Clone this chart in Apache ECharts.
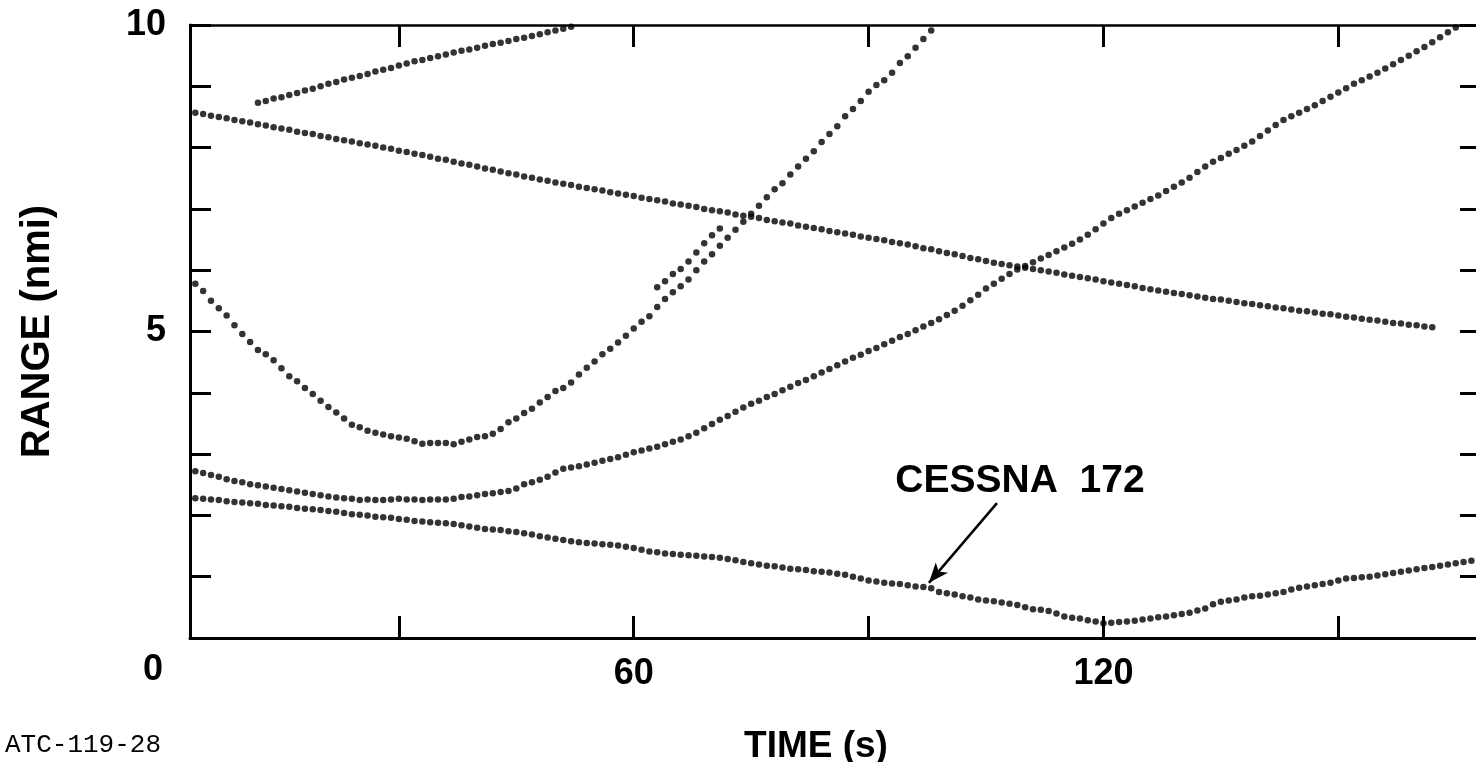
<!DOCTYPE html>
<html>
<head>
<meta charset="utf-8">
<title>Range vs time</title>
<script src="https://cdn.jsdelivr.net/npm/echarts@6/dist/echarts.min.js"></script>
<style>
  html, body { margin: 0; padding: 0; background: #fff; }
  #main { width: 1476px; height: 762px; }
</style>
</head>
<body>
<div id="main"></div>
<script>
// axes
var timeMin = 3.32, timeMax = 168.1;
var timeTicks = [30, 60, 90, 120, 150];
var timeLabels = [60, 120];
var rangeLabels = [5, 10];

// tracks: time of first report (s), then one range report per second (nmi)
var trackAStart = 12;
var trackA = [8.73, 8.76, 8.80, 8.82, 8.86, 8.89, 8.93, 8.96, 9.00, 9.04, 9.07, 9.11, 9.14, 9.17, 9.20, 9.24, 9.27, 9.30, 9.34, 9.37,
  9.41, 9.43, 9.46, 9.49, 9.52, 9.55, 9.58, 9.60, 9.63, 9.66, 9.69, 9.71, 9.74, 9.77, 9.79, 9.82, 9.85, 9.88, 9.91, 9.94, 9.97];

var trackBStart = 4;
var trackB = [8.57,
  8.55, 8.52, 8.50, 8.48, 8.45, 8.43, 8.41, 8.38, 8.36, 8.33,
  8.31, 8.29, 8.26, 8.24, 8.22, 8.19, 8.17, 8.14, 8.12, 8.10,
  8.07, 8.05, 8.03, 8.00, 7.98, 7.95, 7.93, 7.90, 7.88, 7.85,
  7.82, 7.80, 7.77, 7.74, 7.72, 7.69, 7.66, 7.64, 7.61, 7.58,
  7.56, 7.53, 7.51, 7.48, 7.46, 7.43, 7.41, 7.39, 7.36, 7.34,
  7.32, 7.30, 7.27, 7.25, 7.23, 7.21, 7.18, 7.16, 7.14, 7.12,
  7.09, 7.07, 7.05, 7.03, 7.00, 6.98, 6.96, 6.94, 6.91, 6.89,
  6.87, 6.85, 6.82, 6.80, 6.78, 6.76, 6.73, 6.71, 6.69, 6.67,
  6.64, 6.62, 6.60, 6.58, 6.55, 6.53, 6.51, 6.49, 6.46, 6.44,
  6.42, 6.39, 6.36, 6.34, 6.31, 6.28, 6.26, 6.23, 6.20, 6.18,
  6.15, 6.12, 6.10, 6.08, 6.06, 6.04, 6.02, 6.00, 5.98, 5.96,
  5.93, 5.91, 5.89, 5.87, 5.85, 5.82, 5.80, 5.78, 5.76, 5.74,
  5.71, 5.69, 5.67, 5.65, 5.63, 5.61, 5.59, 5.57, 5.55, 5.53,
  5.52, 5.50, 5.48, 5.46, 5.45, 5.43, 5.41, 5.39, 5.38, 5.36,
  5.34, 5.33, 5.31, 5.29, 5.28, 5.26, 5.24, 5.23, 5.21, 5.19,
  5.18, 5.16, 5.14, 5.13, 5.11, 5.10, 5.08, 5.07];

var trackCStart = 4;
var trackC = [5.78, 5.66, 5.50, 5.38, 5.26, 5.10, 4.96, 4.83, 4.70, 4.63,
  4.53, 4.40, 4.27, 4.19, 4.08, 3.98, 3.87, 3.77, 3.68, 3.58,
  3.48, 3.44, 3.38, 3.35, 3.32, 3.29, 3.27, 3.25, 3.21, 3.17,
  3.18, 3.18, 3.18, 3.16, 3.20, 3.24, 3.28, 3.29, 3.33, 3.41,
  3.52, 3.58, 3.67, 3.74, 3.84, 3.93, 4.03, 4.08, 4.17, 4.30,
  4.41, 4.51, 4.63, 4.72, 4.82, 4.93, 5.05, 5.16, 5.25, 5.40,
  5.53, 5.64, 5.74, 5.85, 6.00, 6.14, 6.26, 6.40, 6.53, 6.66,
  6.79, 6.92, 7.05, 7.19, 7.32, 7.42, 7.56, 7.69, 7.82, 7.94,
  8.09, 8.22, 8.35, 8.51, 8.63, 8.76, 8.91, 9.02, 9.10, 9.22,
  9.38, 9.49, 9.63, 9.77, 9.91];

// second report string beside track C
var trackC2Start = 63;
var trackC2 = [5.72, 5.82, 5.94, 6.02, 6.14, 6.29, 6.44, 6.57, 6.68];

var trackDStart = 4;
var trackD = [2.72, 2.69, 2.66, 2.63, 2.59, 2.56, 2.54, 2.51, 2.49, 2.47,
  2.45, 2.43, 2.41, 2.39, 2.37, 2.35, 2.33, 2.31, 2.29, 2.28,
  2.27, 2.25, 2.26, 2.25, 2.25, 2.26, 2.27, 2.26, 2.26, 2.25,
  2.26, 2.26, 2.26, 2.27, 2.30, 2.31, 2.33, 2.35, 2.36, 2.38,
  2.40, 2.44, 2.51, 2.54, 2.58, 2.63, 2.70, 2.76, 2.78, 2.80,
  2.83, 2.86, 2.89, 2.92, 2.95, 2.99, 3.03, 3.06, 3.09, 3.12,
  3.16, 3.20, 3.24, 3.29, 3.35, 3.42, 3.49, 3.56, 3.62, 3.69,
  3.76, 3.82, 3.87, 3.93, 3.98, 4.04, 4.10, 4.16, 4.21, 4.27,
  4.33, 4.39, 4.45, 4.51, 4.57, 4.62, 4.68, 4.73, 4.79, 4.85,
  4.91, 4.96, 5.02, 5.08, 5.14, 5.20, 5.27, 5.34, 5.42, 5.51,
  5.60, 5.70, 5.78, 5.86, 5.94, 6.01, 6.07, 6.13, 6.19, 6.25,
  6.31, 6.37, 6.43, 6.50, 6.58, 6.67, 6.76, 6.85, 6.92, 6.98,
  7.04, 7.10, 7.16, 7.22, 7.29, 7.36, 7.43, 7.51, 7.60, 7.69,
  7.77, 7.83, 7.90, 7.96, 8.03, 8.10, 8.19, 8.28, 8.37, 8.45,
  8.51, 8.57, 8.63, 8.69, 8.76, 8.83, 8.90, 8.97, 9.04, 9.10,
  9.16, 9.22, 9.29, 9.36, 9.43, 9.50, 9.57, 9.64, 9.72, 9.80,
  9.88, 9.96];

// Cessna 172
var trackEStart = 4;
var trackE = [2.28, 2.27, 2.26, 2.25, 2.23, 2.22, 2.21, 2.20, 2.19, 2.17,
  2.16, 2.15, 2.14, 2.12, 2.11, 2.10, 2.09, 2.07, 2.06, 2.04,
  2.02, 2.01, 2.00, 1.98, 1.97, 1.96, 1.94, 1.93, 1.91, 1.90,
  1.89, 1.88, 1.87, 1.86, 1.84, 1.82, 1.80, 1.78, 1.77, 1.76,
  1.74, 1.73, 1.71, 1.69, 1.66, 1.64, 1.62, 1.60, 1.58, 1.56,
  1.55, 1.54, 1.53, 1.52, 1.51, 1.49, 1.47, 1.44, 1.41, 1.40,
  1.38, 1.37, 1.36, 1.35, 1.34, 1.33, 1.32, 1.31, 1.29, 1.27,
  1.24, 1.22, 1.20, 1.18, 1.17, 1.15, 1.13, 1.12, 1.11, 1.09,
  1.08, 1.07, 1.05, 1.03, 1.00, 0.97, 0.94, 0.92, 0.90, 0.89,
  0.88, 0.86, 0.84, 0.83, 0.81, 0.75, 0.73, 0.71, 0.68, 0.66,
  0.63, 0.61, 0.60, 0.58, 0.56, 0.54, 0.50, 0.47, 0.46, 0.44,
  0.40, 0.35, 0.33, 0.32, 0.29, 0.27, 0.24, 0.25, 0.26, 0.27,
  0.28, 0.30, 0.32, 0.34, 0.35, 0.37, 0.39, 0.41, 0.45, 0.48,
  0.55, 0.59, 0.61, 0.63, 0.66, 0.68, 0.69, 0.71, 0.73, 0.75,
  0.79, 0.82, 0.84, 0.86, 0.88, 0.90, 0.94, 0.97, 0.98, 0.99,
  1.00, 1.02, 1.04, 1.06, 1.08, 1.10, 1.12, 1.14, 1.16, 1.18,
  1.20, 1.22, 1.24, 1.26];

// arrow pointing at the Cessna track: [time, range] from -> to
var arrowFrom = [106.4, 2.20];
var arrowTo = [97.7, 0.90];

function toPoints(start, values) {
  return values.map(function (v, i) { return [start + i, v]; });
}

var font = '"Liberation Sans", Arial, sans-serif';
var ink = '#000';

function dots(name, data) {
  return {
    name: name,
    type: 'scatter',
    data: data,
    symbol: 'circle',
    symbolSize: 6.5,
    itemStyle: { color: '#000' },
    silent: true
  };
}

var chart = echarts.init(document.getElementById('main'));

var cessna = dots('CESSNA 172', toPoints(trackEStart, trackE));
cessna.markLine = {
  silent: true,
  symbol: ['none', 'arrow'],
  symbolSize: [12, 20],
  label: { show: false },
  lineStyle: { color: ink, width: 2.5, type: 'solid' },
  data: [[{ coord: arrowFrom }, { coord: arrowTo }]]
};

chart.setOption({
  animation: false,
  backgroundColor: '#fff',
  grid: { left: 190, top: 25, right: -4, bottom: 124, outerBoundsMode: 'none', containLabel: false },
  xAxis: [{
    type: 'value', position: 'bottom', min: timeMin, max: timeMax,
    name: 'TIME (s)', nameLocation: 'middle', nameGap: 90,
    nameTextStyle: { color: ink, fontFamily: font, fontWeight: 'bold', fontSize: 37, padding: [0, 38, 0, 0] },
    axisLine: { show: true, onZero: false, lineStyle: { color: ink, width: 3 } },
    axisTick: { show: true, inside: true, length: 22, customValues: timeTicks, lineStyle: { color: ink, width: 3 } },
    axisLabel: { customValues: timeLabels, margin: 18, color: ink, fontFamily: font, fontWeight: 'bold', fontSize: 36 },
    splitLine: { show: false }
  }, {
    type: 'value', position: 'top', min: timeMin, max: timeMax,
    axisLine: { show: true, onZero: false, lineStyle: { color: ink, width: 2.5 } },
    axisTick: { show: true, inside: true, length: 22, customValues: timeTicks, lineStyle: { color: ink, width: 3 } },
    axisLabel: { show: false },
    splitLine: { show: false }
  }],
  yAxis: [{
    type: 'value', position: 'left', min: 0, max: 10, interval: 1,
    name: 'RANGE (nmi)', nameLocation: 'middle', nameGap: 132, nameRotate: 90,
    nameTextStyle: { color: ink, fontFamily: font, fontWeight: 'bold', fontSize: 40 },
    axisLine: { show: true, onZero: false, lineStyle: { color: ink, width: 3 } },
    axisTick: { show: true, inside: true, length: 21, lineStyle: { color: ink, width: 3 } },
    axisLabel: { customValues: rangeLabels, margin: 24, color: ink, fontFamily: font, fontWeight: 'bold', fontSize: 36 },
    splitLine: { show: false }
  }, {
    type: 'value', position: 'right', min: 0, max: 10, interval: 1,
    axisLine: { show: false, onZero: false },
    axisTick: { show: true, inside: true, length: 20, lineStyle: { color: ink, width: 3 } },
    axisLabel: { show: false },
    splitLine: { show: false }
  }],
  graphic: [
    { type: 'text', x: 153, y: 670, style: { text: '0', fill: ink, font: 'bold 36px ' + font, align: 'center', verticalAlign: 'middle' } },
    { type: 'text', x: 1020, y: 481, style: { text: 'CESSNA  172', fill: ink, font: 'bold 39px ' + font, align: 'center', verticalAlign: 'middle' } },
    { type: 'text', x: 5, y: 745, style: { text: 'ATC-119-28', fill: ink, font: '26px "Liberation Mono", "DejaVu Sans Mono", monospace', align: 'left', verticalAlign: 'middle' } }
  ],
  series: [
    dots('Track A', toPoints(trackAStart, trackA)),
    dots('Track B', toPoints(trackBStart, trackB)),
    dots('Track C', toPoints(trackCStart, trackC)),
    dots('Track C (second)', toPoints(trackC2Start, trackC2)),
    dots('Track D', toPoints(trackDStart, trackD)),
    cessna
  ]
});
</script>
</body>
</html>
